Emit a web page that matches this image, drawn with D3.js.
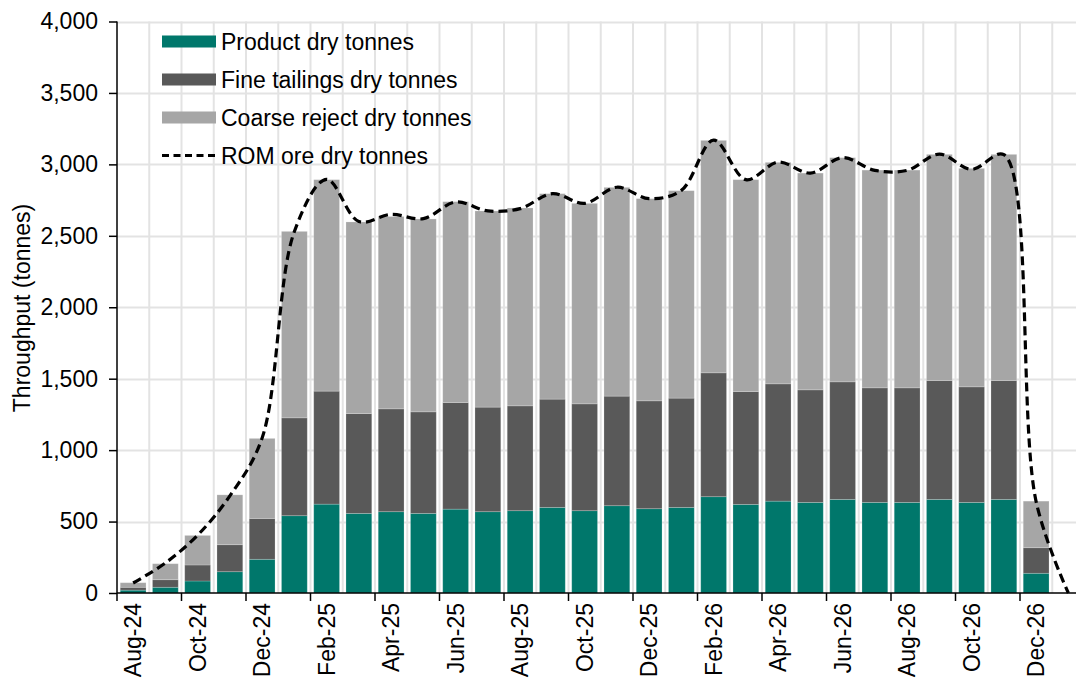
<!DOCTYPE html>
<html>
<head>
<meta charset="utf-8">
<script src="https://cdn.jsdelivr.net/npm/d3@7"></script>
<style>
  html, body { margin: 0; padding: 0; background: #fff; }
  svg { display: block; font-family: "Liberation Sans", Arial, sans-serif; }
</style>
</head>
<body>
<svg id="chart" width="1076" height="681"></svg>
<script>
const months = ["Aug-24","Sep-24","Oct-24","Nov-24","Dec-24","Jan-25","Feb-25","Mar-25","Apr-25","May-25","Jun-25","Jul-25","Aug-25","Sep-25","Oct-25","Nov-25","Dec-25","Jan-26","Feb-26","Mar-26","Apr-26","May-26","Jun-26","Jul-26","Aug-26","Sep-26","Oct-26","Nov-26","Dec-26","Jan-27"];
const product = [20,40,84,149,236,541,622,557,569,557,587,569,576,599,576,611,590,599,674,620,643,634,655,634,634,655,634,655,138,0];
const fineTailings = [20,53,112,189,286,685,791,699,720,711,746,732,734,758,748,767,755,765,867,790,821,788,823,802,802,832,809,832,179,0];
const coarseReject = [32,112,207,349,560,1305,1480,1341,1346,1350,1406,1373,1385,1438,1403,1461,1415,1452,1627,1483,1550,1517,1569,1524,1524,1583,1529,1583,326,0];
const romOre = [70,210,405,680,1085,2530,2895,2600,2650,2620,2737,2674,2690,2795,2727,2840,2760,2818,3170,2893,3016,2939,3047,2958,2958,3072,2965,3068,640,0];
const yTicks = [0,500,1000,1500,2000,2500,3000,3500,4000];
const seriesNames = ["Product dry tonnes","Fine tailings dry tonnes","Coarse reject dry tonnes","ROM ore dry tonnes"];
const colors = ["#00776b","#595959","#a6a6a6"];

const FS = 23;
const svg = d3.select("#chart");
const x = d3.scaleBand().domain(months).range([117, 1084.5]).paddingInner(0.2).paddingOuter(0.1);
const y = d3.scaleLinear().domain([0, 4000]).range([593, 21.5]);
const step = x.step();
const off = (step - x.bandwidth()) / 2;
const boundary = m => x(m) - off;

// gridlines
const grid = svg.append("g");
grid.selectAll("line.h").data(yTicks.filter(d => d > 0)).join("line")
  .attr("x1", 117).attr("x2", 1084.5)
  .attr("y1", d => Math.round(y(d)) + 0.5).attr("y2", d => Math.round(y(d)) + 0.5)
  .attr("stroke", "#e3e3e3").attr("stroke-width", 2);
grid.selectAll("line.v").data(months.slice(1).concat(["end"])).join("line")
  .attr("x1", d => d === "end" ? 1084.5 : boundary(d)).attr("x2", d => d === "end" ? 1084.5 : boundary(d))
  .attr("y1", 21.5).attr("y2", 593)
  .attr("stroke", "#e3e3e3").attr("stroke-width", 2);

// stacked bars
const table = months.map((m, i) => ({month: m, product: product[i], fine: fineTailings[i], coarse: coarseReject[i]}));
const stack = d3.stack().keys(["product","fine","coarse"])(table);
svg.append("g").selectAll("g").data(stack).join("g")
  .attr("fill", (d, i) => colors[i])
  .selectAll("rect").data(d => d).join("rect")
  .attr("x", d => x(d.data.month))
  .attr("width", x.bandwidth())
  .attr("y", d => y(d[1]))
  .attr("height", d => Math.max(0, y(d[0]) - y(d[1])))
  .attr("stroke", "#ffffff").attr("stroke-opacity", 0.25).attr("stroke-width", 0.8);

// ROM line
const line = d3.line()
  .x((d, i) => x(months[i]) + x.bandwidth() / 2)
  .y(d => y(d))
  .curve(d3.curveCatmullRom.alpha(0.5));
svg.append("path").datum(romOre)
  .attr("d", line)
  .attr("fill", "none").attr("stroke", "#000").attr("stroke-width", 3.2)
  .attr("stroke-dasharray", "9,5");

// y axis
const yAxis = d3.axisLeft(y).tickValues(yTicks).tickSize(8).tickPadding(11).tickFormat(d3.format(","));
const ya = svg.append("g").attr("transform", "translate(117,0)").call(yAxis);
ya.select(".domain").attr("stroke", "#000").attr("stroke-width", 1.5).attr("d", "M0,593V21.5");
ya.selectAll(".tick line").attr("stroke", "#000").attr("stroke-width", 1.5);
ya.selectAll("text").attr("font-size", FS).attr("fill", "#000")
  .attr("font-family", "'Liberation Sans', Arial, sans-serif");

// x axis
const xAxisG = svg.append("g");
xAxisG.append("line").attr("x1", 117).attr("x2", 1084.5).attr("y1", 593).attr("y2", 593)
  .attr("stroke", "#000").attr("stroke-width", 1.5);
xAxisG.selectAll("line.t").data(months.filter((m, i) => i % 2 === 0)).join("line")
  .attr("x1", d => boundary(d)).attr("x2", d => boundary(d))
  .attr("y1", 593).attr("y2", 601)
  .attr("stroke", "#000").attr("stroke-width", 1.5);
xAxisG.selectAll("text").data(months.filter((m, i) => i % 2 === 0 && m !== "Jan-27")).join("text")
  .attr("transform", d => `translate(${x(d) + x.bandwidth() / 2},603) rotate(-90)`)
  .attr("text-anchor", "end").attr("dy", "0.35em")
  .attr("font-size", FS).attr("fill", "#000")
  .text(d => d);

// y axis title
svg.append("text")
  .attr("transform", "translate(22,308) rotate(-90)")
  .attr("text-anchor", "middle").attr("dy", "0.35em")
  .attr("font-size", FS).attr("fill", "#000")
  .text("Throughput (tonnes)");

// legend
const legY = [41.5, 79.5, 117.5, 155.5];
const leg = svg.append("g");
seriesNames.forEach((name, i) => {
  if (i < 3) {
    leg.append("rect").attr("x", 162).attr("y", legY[i] - 6).attr("width", 54).attr("height", 12).attr("fill", colors[i]);
  } else {
    leg.append("line").attr("x1", 162).attr("x2", 216).attr("y1", legY[i]).attr("y2", legY[i])
      .attr("stroke", "#000").attr("stroke-width", 3).attr("stroke-dasharray", "7,4.5");
  }
  leg.append("text").attr("x", 221).attr("y", legY[i]).attr("dy", "0.35em")
    .attr("font-size", FS).attr("fill", "#000").text(name);
});
</script>
</body>
</html>
